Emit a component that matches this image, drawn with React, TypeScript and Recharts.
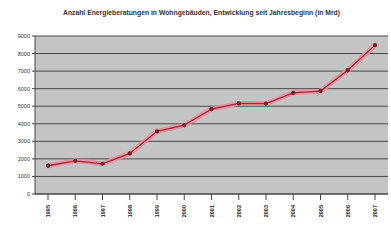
import React from "react";
import { LineChart, Line, XAxis, YAxis, CartesianGrid } from "recharts";

const title = "Anzahl Energieberatungen in Wohngebäuden, Entwicklung seit Jahresbeginn (in Mrd)";
const years = ["1995","1996","1997","1998","1999","2000","2001","2002","2003","2004","2005","2006","2007"];
const values = [1610, 1890, 1720, 2310, 3570, 3920, 4840, 5160, 5150, 5760, 5860, 7050, 8480];
const yTicks = [0, 1000, 2000, 3000, 4000, 5000, 6000, 7000, 8000, 9000];

const data = years.map((y, i) => ({ year: y, value: values[i] }));

const XTick = (props: any) => {
  const { x, y, payload } = props;
  return (
    <text x={x} y={y + 3} transform={`rotate(-90 ${x} ${y + 3})`} textAnchor="end" dominantBaseline="central" fontSize={5.5} fontWeight="bold" fill="#222" fontFamily="Arial, 'Liberation Sans', sans-serif">
      {payload.value}
    </text>
  );
};

export default function App() {
  return (
    <div style={{ position: "absolute", left: 0, top: 0, width: 391, height: 240, background: "#fff" }}>
      <div style={{ position: "absolute", top: 9, left: 6, width: 391, textAlign: "center", fontSize: 6.8, fontWeight: "bold", fontFamily: "Arial, 'Liberation Sans', sans-serif", color: "#333" }}>
        {title}
      </div>
      <LineChart width={391} height={240} data={data} margin={{ top: 36, right: 3, bottom: 23, left: 0 }}>
        <CartesianGrid vertical={false} stroke="#484848" strokeWidth={1} fill="#c4c4c4" />
        <XAxis dataKey="year" interval={0} padding={{ left: 13, right: 13 }} tick={<XTick />} tickLine={{ stroke: "#444" }} axisLine={{ stroke: "#444" }} height={23} />
        <YAxis domain={[0, 9000]} ticks={yTicks} width={35} interval={0} tick={{ fontSize: 5.5, fill: "#333", fontFamily: "Arial, 'Liberation Sans', sans-serif" }} tickLine={{ stroke: "#444" }} tickSize={3} axisLine={{ stroke: "#444" }} />
        <Line dataKey="value" stroke="#ee8c9c" strokeOpacity={0.85} strokeWidth={5} dot={false} isAnimationActive={false} />
        <Line dataKey="value" stroke="#a82838" strokeWidth={1.3} dot={{ r: 1.5, fill: "#702028", stroke: "#702028" }} isAnimationActive={false} />
      </LineChart>
    </div>
  );
}
